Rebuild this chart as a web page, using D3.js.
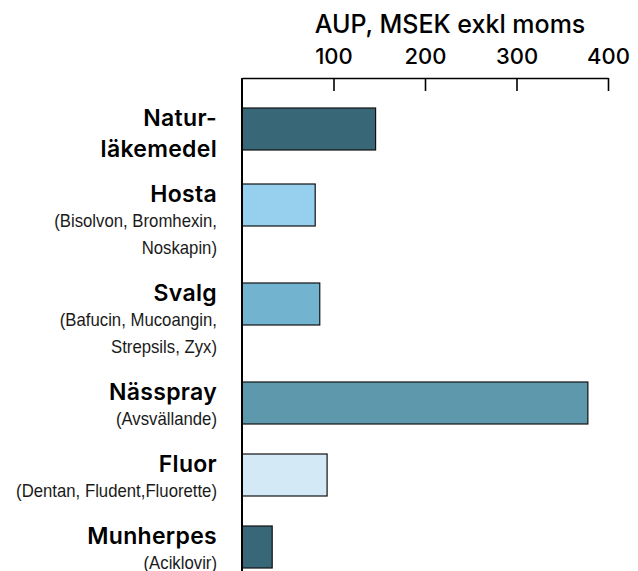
<!DOCTYPE html>
<html>
<head>
<meta charset="utf-8">
<script src="https://cdn.jsdelivr.net/npm/d3@7"></script>
<style>
  body { margin: 0; background: #fff; }
  svg { display: block; }
</style>
</head>
<body>
<div id="chart"></div>
<script>
// data
const labels = [["Natur-", "läkemedel"], ["Hosta"], ["Svalg"], ["Nässpray"], ["Fluor"], ["Munherpes"]];
const subLabels = [
    [],
    ["(Bisolvon, Bromhexin,", "Noskapin)"],
    ["(Bafucin, Mucoangin,", "Strepsils, Zyx)"],
    ["(Avsvällande)"],
    ["(Dentan, Fludent,Fluorette)"],
    ["(Aciklovir)"]
];
const values = [146, 80, 85, 378, 93, 33];
const colors = ["#386878", "#96d0ee", "#72b3cf", "#5e98ad", "#d3eaf6", "#386878"];
const tickValues = [100, 200, 300, 400];
const axisTitle = "AUP, MSEK exkl moms";

const width = 638;
const height = 571;
const axisY = 78;
const barTop = 108;
const barH = 42;
const labelX = 217;
const narrow = 0.93; // squeeze for the condensed sub labels

const svg = d3.select("#chart")
    .append("svg")
    .attr("width", width)
    .attr("height", height);

const x = d3.scaleLinear()
    .domain([0, 400])
    .range([242, 608]);

// each row gets room for its text lines plus a gap
const boldLine = 31, subLine = 27, gap = 14;
const rows = labels.map((l, i) => l.length * boldLine + subLabels[i].length * subLine + gap);
const offsets = [0];
rows.forEach((r, i) => { if (i < rows.length - 1) offsets.push(offsets[i] + r); });
const y = d3.scaleLinear()
    .domain([0, 1])
    .range([barTop, barTop + 1]);

// bars
svg.append("g")
    .selectAll("rect")
    .data(values)
    .join("rect")
    .attr("x", x(0))
    .attr("y", (d, i) => y(offsets[i]))
    .attr("width", d => x(d) - x(0))
    .attr("height", barH)
    .attr("fill", (d, i) => colors[i])
    .attr("stroke", "#111")
    .attr("stroke-width", 1.2);

// top axis
const axis = svg.append("g")
    .attr("transform", "translate(0," + axisY + ")")
    .call(d3.axisTop(x).tickValues(tickValues).tickSizeInner(-13).tickSizeOuter(0).tickPadding(14));
axis.select(".domain").attr("stroke", "#000").attr("stroke-width", 1.6);
axis.selectAll(".tick line").attr("stroke", "#000").attr("stroke-width", 1.6);
axis.selectAll(".tick text")
    .attr("font-family", "Inter, 'Liberation Sans', sans-serif")
    .attr("font-size", 22)
    .attr("font-weight", 500)
    .attr("fill", "#000");

svg.append("text")
    .attr("x", (x(0) + x(400)) / 2 + 25)
    .attr("y", 33)
    .attr("text-anchor", "middle")
    .attr("font-family", "Inter, 'Liberation Sans', sans-serif")
    .attr("font-size", 25)
    .attr("font-weight", 500)
    .text(axisTitle);

// vertical axis line
svg.append("line")
    .attr("x1", x(0)).attr("x2", x(0))
    .attr("y1", axisY).attr("y2", height)
    .attr("stroke", "#000")
    .attr("stroke-width", 2);

// labels
const lab = svg.append("g").selectAll("g")
    .data(labels)
    .join("g")
    .attr("transform", (d, i) => "translate(" + labelX + "," + (y(offsets[i]) + 18) + ")");

lab.each(function(d, i) {
    const g = d3.select(this);
    d.forEach((line, j) => {
        g.append("text")
            .attr("y", j * boldLine)
            .attr("text-anchor", "end")
            .attr("font-family", "Inter, 'Liberation Sans', sans-serif")
            .attr("font-size", 23)
            .attr("font-weight", 600)
            .attr("letter-spacing", 0.3)
            .text(line);
    });
    const sub = g.append("g").attr("transform", "scale(" + narrow + ",1)");
    subLabels[i].forEach((line, j) => {
        sub.append("text")
            .attr("y", (d.length - 1) * boldLine + 25 + j * subLine)
            .attr("text-anchor", "end")
            .attr("font-family", "'Liberation Sans', Arial, sans-serif")
            .attr("font-size", 18)
            .attr("fill", "#1a1a1a")
            .text(line);
    });
});
</script>
</body>
</html>
